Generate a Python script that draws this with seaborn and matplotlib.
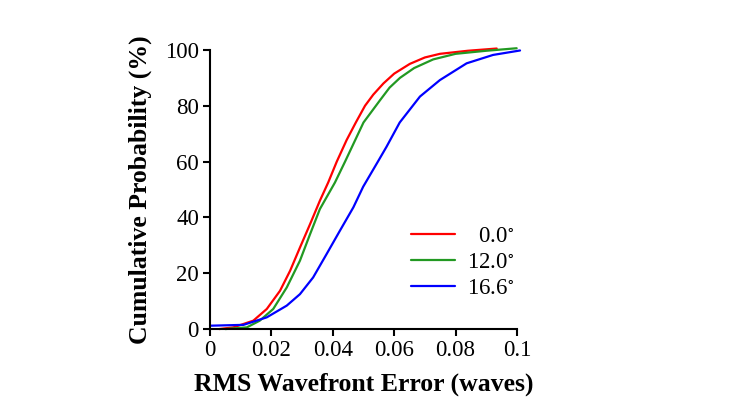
import pandas as pd
import matplotlib
matplotlib.use("Agg")
import matplotlib.pyplot as plt
import seaborn as sns

sns.set_theme(style="white")
plt.rcParams['font.family'] = ['Liberation Serif', 'DejaVu Serif']
plt.rcParams['mathtext.fontset'] = 'stix'
plt.rcParams['text.color'] = 'black'
plt.rcParams['axes.labelcolor'] = 'black'

# ── data (x in waves, y in %) ──
x_red = [0.003, 0.0076, 0.0141, 0.0185, 0.0228, 0.0261, 0.0293, 0.0326, 0.0358,
         0.0385, 0.0413, 0.0445, 0.0475, 0.0505, 0.0532, 0.0565, 0.060, 0.0651,
         0.070, 0.0749, 0.084, 0.0934]
y_red = [0, 0.6, 3.0, 7.2, 13.7, 20.9, 29.2, 37.6, 46,
         52.5, 60, 67.7, 74, 80, 84, 88, 91.5, 95,
         97.3, 98.6, 99.7, 100.5]

x_green = [0.005, 0.012, 0.0162, 0.0206, 0.025, 0.0293, 0.0326, 0.0358, 0.0407,
           0.044, 0.047, 0.050, 0.0554, 0.0585, 0.0619, 0.0665, 0.0727, 0.080,
           0.090, 0.0999]
y_green = [0, 0.6, 3.0, 7.2, 14.9, 24.5, 34, 43, 52.5,
           60, 67, 74, 82, 86.5, 90, 93.5, 96.6, 98.6,
           99.7, 100.6]

x_blue = [0.0, 0.0109, 0.0185, 0.025, 0.0293, 0.0336, 0.038, 0.0423, 0.0467,
          0.0499, 0.0547, 0.0575, 0.0618, 0.0684, 0.0749, 0.0836, 0.0922, 0.101]
y_blue = [1.2, 1.5, 4.2, 8.4, 12.5, 18.5, 26.9, 35.2, 43.6,
          51, 60, 65.3, 74, 83.3, 89.2, 95.2, 98.2, 99.8]

labels = ["  0.0$^{\\circ}$", "12.0$^{\\circ}$", "16.6$^{\\circ}$"]
colors = ["#ff0000", "#229922", "#0000ff"]

frames = []
for lab, xs, ys in zip(labels, [x_red, x_green, x_blue], [y_red, y_green, y_blue]):
    frames.append(pd.DataFrame({"x": xs, "y": ys, "angle": lab}))
df = pd.concat(frames, ignore_index=True)

fig = plt.figure(figsize=(7.4, 4.16), dpi=100)
ax = fig.add_axes([0.2838, 0.209, 0.4148, 0.671])

sns.lineplot(data=df, x="x", y="y", hue="angle", palette=colors,
             sort=False, estimator=None, linewidth=1.6, ax=ax)
for ln in ax.lines:
    ln.set_clip_on(False)
    ln.set_solid_joinstyle("round")

ax.set_xlim(0, 0.1)
ax.set_ylim(0, 100)
ax.set_xticks([0, 0.02, 0.04, 0.06, 0.08, 0.1])
ax.set_xticklabels(["0", "0.02", "0.04", "0.06", "0.08", "0.1"])
ax.set_yticks([0, 20, 40, 60, 80, 100])

for side in ["top", "right"]:
    ax.spines[side].set_visible(False)
for side in ["left", "bottom"]:
    ax.spines[side].set_color("black")
    ax.spines[side].set_linewidth(1.5)

ax.tick_params(axis="both", direction="out", length=5, width=1.5,
               colors="black", labelsize=16.5, pad=3,
               bottom=True, left=True)

ax.set_xlabel("RMS Wavefront Error (waves)", fontsize=18.5, fontweight="bold",
              labelpad=8, color="black")
ax.set_ylabel("Cumulative Probability (%)", fontsize=18.5, fontweight="bold",
              labelpad=9, color="black")

ax.legend(loc="lower left", bbox_to_anchor=(0.625, 0.075), frameon=False,
          fontsize=16.5, handlelength=1.9, handletextpad=0.55,
          labelspacing=0.22, borderaxespad=0)

fig.savefig("out.png", dpi=100)
